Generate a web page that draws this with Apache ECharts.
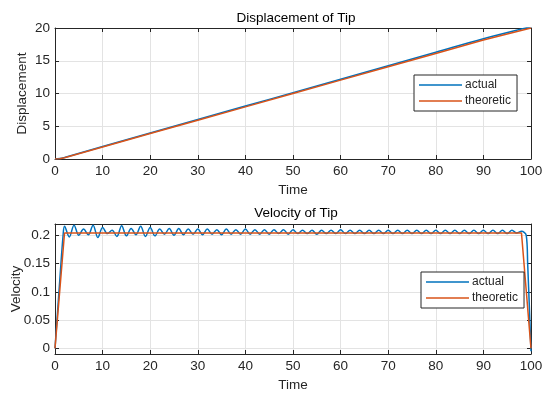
<!DOCTYPE html>
<html>
<head>
<meta charset="utf-8">
<script src="https://cdn.jsdelivr.net/npm/echarts@6/dist/echarts.min.js"></script>
<style>
  html, body { margin: 0; padding: 0; background: #fff; }
  #chart { width: 545px; height: 394px; }
</style>
</head>
<body>
<div id="chart"></div>
<script>
const seriesNames = ['actual', 'theoretic']
const xTicks = [0, 10, 20, 30, 40, 50, 60, 70, 80, 90, 100]
const dispTicks = [0, 5, 10, 15, 20]
const velTicks = [0, 0.05, 0.1, 0.15, 0.2]

// displacement
const dispTime = [0, 1, 2, 10, 20, 30, 40, 50, 60, 70, 80, 90, 100]
const dispActual = [0, 0.07, 0.24, 1.9, 3.96, 6.02, 8.08, 10.13, 12.19, 14.25, 16.31, 18.37, 20.2]
const dispTheoretic = [0, 0.05, 0.2, 1.84, 3.88, 5.92, 7.96, 10.0, 12.04, 14.08, 16.12, 18.16, 20.0]

// velocity
const velTime = [0, 1, 1.7, 2, 3, 4, 5, 6, 7, 8, 9, 10, 11, 12, 13, 14, 15, 16, 17, 18, 19,
  20, 21, 22, 23, 24, 25, 26, 27, 28, 29, 30, 31, 32, 33, 34, 35, 36, 37, 38, 39,
  40, 41, 42, 43, 44, 45, 46, 47, 48, 49, 50, 51, 52, 53, 54, 55, 56, 57, 58, 59,
  60, 61, 62, 63, 64, 65, 66, 67, 68, 69, 70, 71, 72, 73, 74, 75, 76, 77, 78, 79,
  80, 81, 82, 83, 84, 85, 86, 87, 88, 89, 90, 91, 92, 93, 94, 95, 96, 97, 98, 99, 99.3, 100]
const velActual = [0, 0.12, 0.2, 0.216, 0.197, 0.218, 0.2, 0.211, 0.201, 0.218, 0.196, 0.214, 0.203, 0.209, 0.198, 0.217, 0.199, 0.212, 0.201, 0.216, 0.198,
  0.214, 0.199, 0.211, 0.202, 0.212, 0.2, 0.212, 0.201, 0.211, 0.202, 0.211, 0.201, 0.211, 0.202, 0.21, 0.201, 0.211, 0.202, 0.21, 0.202,
  0.211, 0.202, 0.21, 0.202, 0.21, 0.202, 0.21, 0.203, 0.21, 0.202, 0.21, 0.203, 0.209, 0.203, 0.209, 0.202, 0.209, 0.203, 0.209, 0.203,
  0.21, 0.203, 0.209, 0.203, 0.209, 0.203, 0.209, 0.203, 0.209, 0.203, 0.209, 0.203, 0.209, 0.203, 0.209, 0.203, 0.209, 0.203, 0.209, 0.203,
  0.209, 0.203, 0.209, 0.203, 0.209, 0.203, 0.209, 0.203, 0.209, 0.203, 0.209, 0.203, 0.209, 0.203, 0.209, 0.203, 0.209, 0.204, 0.207, 0.2, 0.15, -0.005]
const velTheoTime = [0, 2, 98, 100]
const velTheoretic = [0, 0.204, 0.204, 0]

const blue = '#0072BD'
const orange = '#D95319'
const ink = '#262626'
const font = 'Liberation Sans, Arial, sans-serif'

const chart = echarts.init(document.getElementById('chart'))

const pairs = (xs, ys) => xs.map((x, i) => [x, ys[i]])

function mainX(gridIndex) {
  return {
    gridIndex, type: 'value', min: 0, max: 100,
    name: 'Time', nameLocation: 'middle', nameGap: 24,
    nameTextStyle: { fontFamily: font, fontSize: 13.5, color: ink },
    axisLine: { show: true, onZero: false, lineStyle: { color: ink } },
    axisTick: { inside: true, length: 4, customValues: xTicks, lineStyle: { color: ink } },
    axisLabel: { customValues: xTicks, fontFamily: font, fontSize: 13.5, color: ink, margin: 5 },
    splitLine: { show: true, lineStyle: { color: '#e3e3e3' } }
  }
}
function mirrorX(gridIndex) {
  return {
    gridIndex, type: 'value', min: 0, max: 100, position: 'top',
    axisLine: { show: true, onZero: false, lineStyle: { color: ink } },
    axisTick: { inside: true, length: 4, customValues: xTicks, lineStyle: { color: ink } },
    axisLabel: { show: false }, splitLine: { show: false }
  }
}
function mainY(gridIndex, min, max, ticks, name, gap) {
  return {
    gridIndex, type: 'value', min, max,
    name, nameLocation: 'middle', nameGap: gap, nameMoveOverlap: false,
    nameTextStyle: { fontFamily: font, fontSize: 13.5, color: ink },
    axisLine: { show: true, onZero: false, lineStyle: { color: ink } },
    axisTick: { show: true, inside: true, length: 4, customValues: ticks, lineStyle: { color: ink } },
    axisLabel: { customValues: ticks, fontFamily: font, fontSize: 13.5, color: ink, margin: 5 },
    splitLine: { show: true, lineStyle: { color: '#e3e3e3' } }
  }
}
function mirrorY(gridIndex, min, max, ticks) {
  return {
    gridIndex, type: 'value', min, max, position: 'right',
    axisLine: { show: true, onZero: false, lineStyle: { color: ink } },
    axisTick: { show: true, inside: true, length: 4, customValues: ticks, lineStyle: { color: ink } },
    axisLabel: { show: false }, splitLine: { show: false }
  }
}
function legendAt(left, top) {
  return {
    data: seriesNames, orient: 'vertical', left, top,
    icon: 'rect', itemWidth: 43, itemHeight: 1.5, itemGap: 4,
    padding: [4, 6, 4, 5],
    backgroundColor: '#fff', borderColor: ink, borderWidth: 1,
    textStyle: { fontFamily: font, fontSize: 12, color: ink, padding: [0, 0, 0, -2] }
  }
}
function line(name, color, xi, yi, data) {
  return {
    name, type: 'line', xAxisIndex: xi, yAxisIndex: yi, data,
    showSymbol: false, symbol: 'none', smooth: name === 'actual' ? 0.35 : false,
    lineStyle: { color, width: 1.5 }, itemStyle: { color }, z: name === 'actual' ? 2 : 3,
    animation: false
  }
}

chart.setOption({
  animation: false,
  title: [
    { text: 'Displacement of Tip', left: 291, top: 6, textAlign: 'center',
      textStyle: { fontFamily: font, fontSize: 13.5, fontWeight: 'normal', color: '#000' } },
    { text: 'Velocity of Tip', left: 291, top: 201, textAlign: 'center',
      textStyle: { fontFamily: font, fontSize: 13.5, fontWeight: 'normal', color: '#000' } }
  ],
  legend: [legendAt(414, 75), legendAt(421, 272)],
  grid: [
    { left: 55, right: 14, top: 28, height: 131, outerBoundsMode: 'none' },
    { left: 55, right: 14, top: 224, height: 130, outerBoundsMode: 'none' }
  ],
  xAxis: [mainX(0), mirrorX(0), mainX(1), mirrorX(1)],
  yAxis: [
    mainY(0, 0, 20, dispTicks, 'Displacement', 26), mirrorY(0, 0, 20, dispTicks),
    mainY(1, -0.01, 0.22, velTicks, 'Velocity', 32), mirrorY(1, -0.01, 0.22, velTicks)
  ],
  series: [
    line('actual', blue, 0, 0, pairs(dispTime, dispActual)),
    line('theoretic', orange, 0, 0, pairs(dispTime, dispTheoretic)),
    line('actual', blue, 2, 2, pairs(velTime, velActual)),
    line('theoretic', orange, 2, 2, pairs(velTheoTime, velTheoretic))
  ]
})
</script>
</body>
</html>
